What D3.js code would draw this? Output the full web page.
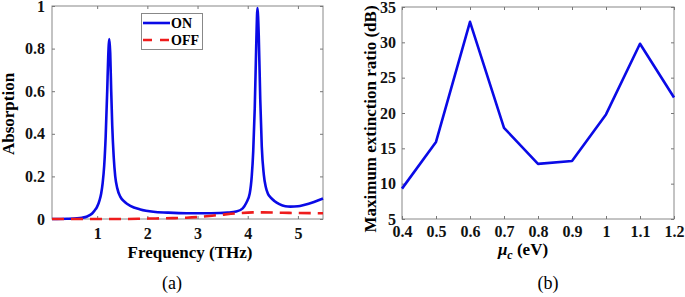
<!DOCTYPE html>
<html>
<head>
<meta charset="utf-8">
<script src="https://cdn.jsdelivr.net/npm/d3@7"></script>
<style>
  body { margin: 0; background: #fff; }
  svg { display: block; font-family: "Liberation Serif", "Times New Roman", serif; }
  .tick line { stroke: #777; }
</style>
</head>
<body>
<div id="chart"></div>
<script>
// ---- panel (a): absorption spectra ----
const freq   = [0.1, 0.4, 0.6, 0.7, 0.8, 0.9, 0.95, 1.0, 1.05, 1.08, 1.11, 1.14, 1.17, 1.2, 1.22, 1.243,
                1.26, 1.28, 1.3, 1.33, 1.36, 1.4, 1.46, 1.55, 1.66, 1.86, 2.12, 2.4, 2.78, 3.1, 3.44, 3.6,
                3.77, 3.9, 3.97, 4.04, 4.08, 4.11, 4.14, 4.17, 4.194, 4.22, 4.25, 4.28, 4.32, 4.36, 4.4,
                4.46, 4.53, 4.63, 4.75, 4.85, 5.0, 5.12, 5.32, 5.5];
const absOn  = [0.0, 0.001, 0.003, 0.006, 0.012, 0.026, 0.04, 0.058, 0.09, 0.12, 0.17, 0.25, 0.39, 0.6, 0.76, 0.845,
                0.78, 0.6, 0.44, 0.29, 0.2, 0.145, 0.105, 0.08, 0.062, 0.045, 0.034, 0.03, 0.027, 0.027, 0.028, 0.03,
                0.035, 0.05, 0.075, 0.12, 0.2, 0.32, 0.52, 0.82, 0.99, 0.86, 0.56, 0.34, 0.21, 0.15, 0.12,
                0.1, 0.085, 0.07, 0.06, 0.058, 0.06, 0.066, 0.08, 0.096];
const offFreq = [0.1, 1.0, 1.5, 2.0, 2.5, 2.78, 3.0, 3.44, 3.8, 4.1, 4.3, 4.7, 5.0, 5.5];
const absOff  = [0.0, 0.0, 0.0, 0.002, 0.004, 0.006, 0.009, 0.019, 0.027, 0.031, 0.031, 0.029, 0.028, 0.027];
const absTicksX = [1, 2, 3, 4, 5];
const absTicksY = [0, 0.2, 0.4, 0.6, 0.8, 1];

// ---- panel (b): maximum extinction ratio vs chemical potential ----
const muC = [0.4, 0.5, 0.6, 0.7, 0.8, 0.9, 1.0, 1.1, 1.2];
const extRatio = [9.3, 15.9, 32.9, 17.9, 12.8, 13.2, 19.8, 29.8, 22.2];
const muTicks = [0.4, 0.5, 0.6, 0.7, 0.8, 0.9, 1, 1.1, 1.2];
const extTicks = [5, 10, 15, 20, 25, 30, 35];

const SERIF = "Liberation Serif, Times New Roman, serif";
const W = 685, H = 297;
const svg = d3.select("#chart").append("svg").attr("width", W).attr("height", H);

function panel(cfg) {
    const x = d3.scaleLinear().domain(cfg.xDomain).range(cfg.xRange);
    const y = d3.scaleLinear().domain(cfg.yDomain).range(cfg.yRange);
    const g = svg.append("g");

    // frame
    g.append("rect")
        .attr("x", cfg.xRange[0]).attr("y", cfg.yRange[1])
        .attr("width", cfg.xRange[1] - cfg.xRange[0])
        .attr("height", cfg.yRange[0] - cfg.yRange[1])
        .attr("fill", "none").attr("stroke", "#888").attr("stroke-width", 1);

    // bottom / left axes with inward ticks
    const bx = g.append("g").attr("transform", `translate(0,${cfg.yRange[0]})`)
        .call(d3.axisBottom(x).tickValues(cfg.xTicks).tickSize(-3).tickPadding(cfg.xPad).tickFormat(d3.format("~g")));
    const ly = g.append("g").attr("transform", `translate(${cfg.xRange[0]},0)`)
        .call(d3.axisLeft(y).tickValues(cfg.yTicks).tickSize(-3).tickPadding(cfg.yPad).tickFormat(d3.format("~g")));
    // top / right ticks, no labels
    const tx = g.append("g").attr("transform", `translate(0,${cfg.yRange[1]})`)
        .call(d3.axisTop(x).tickValues(cfg.xTicks).tickSize(-3).tickFormat(""));
    const ry = g.append("g").attr("transform", `translate(${cfg.xRange[1]},0)`)
        .call(d3.axisRight(y).tickValues(cfg.yTicks).tickSize(-3).tickFormat(""));
    [bx, ly, tx, ry].forEach(ax => {
        ax.select(".domain").remove();
        ax.attr("font-family", SERIF).attr("font-size", 16).attr("font-weight", "bold");
        ax.selectAll("text").attr("fill", "#111");
    });

    return { g, x, y };
}

// =====================
// PANEL (a)
// =====================
const a = panel({
    xDomain: [0.1, 5.5], xRange: [52, 323],
    yDomain: [0, 1], yRange: [219, 6],
    xTicks: absTicksX, yTicks: absTicksY, xPad: 9, yPad: 7
});

const lineA = d3.line().curve(d3.curveMonotoneX);
a.g.append("path")
    .datum(freq.map((f, i) => [a.x(f), a.y(absOn[i])]))
    .attr("d", lineA)
    .attr("fill", "none").attr("stroke", "#0a0ae6").attr("stroke-width", 2.6);
a.g.append("path")
    .datum(offFreq.map((f, i) => [a.x(f), a.y(absOff[i])]))
    .attr("d", lineA)
    .attr("fill", "none").attr("stroke", "#ee1c1c").attr("stroke-width", 2.6)
    .attr("stroke-dasharray", "12,7");

// legend
const leg = a.g.append("g");
leg.append("rect").attr("x", 141.5).attr("y", 13.5).attr("width", 61).attr("height", 36)
    .attr("fill", "#fff").attr("stroke", "#888");
leg.append("line").attr("x1", 143).attr("x2", 170).attr("y1", 23).attr("y2", 23)
    .attr("stroke", "#0a0ae6").attr("stroke-width", 2.6);
leg.append("line").attr("x1", 143).attr("x2", 170).attr("y1", 40).attr("y2", 40)
    .attr("stroke", "#ee1c1c").attr("stroke-width", 2.6).attr("stroke-dasharray", "9,8");
leg.append("text").attr("x", 171).attr("y", 28).attr("font-weight", "bold").attr("font-size", 14).text("ON");
leg.append("text").attr("x", 171).attr("y", 45).attr("font-weight", "bold").attr("font-size", 14).text("OFF");

svg.append("text").attr("x", 190).attr("y", 258).attr("text-anchor", "middle")
    .attr("font-weight", "bold").attr("font-size", 17).text("Frequency (THz)");
svg.append("text").attr("transform", "translate(14,114) rotate(-90)").attr("text-anchor", "middle")
    .attr("font-weight", "bold").attr("font-size", 17).text("Absorption");
svg.append("text").attr("x", 172).attr("y", 289).attr("text-anchor", "middle")
    .attr("font-size", 18).text("(a)");

// =====================
// PANEL (b)
// =====================
const b = panel({
    xDomain: [0.4, 1.2], xRange: [402, 674],
    yDomain: [5, 35], yRange: [219, 7],
    xTicks: muTicks, yTicks: extTicks, xPad: 7, yPad: 6
});

b.g.append("path")
    .datum(muC.map((m, i) => [b.x(m), b.y(extRatio[i])]))
    .attr("d", d3.line())
    .attr("fill", "none").attr("stroke", "#0a0ae6").attr("stroke-width", 2.6)
    .attr("stroke-linejoin", "round");

const xl = svg.append("text").attr("x", 523).attr("y", 255).attr("text-anchor", "middle")
    .attr("font-weight", "bold").attr("font-size", 17);
xl.append("tspan").attr("font-style", "italic").text("\u03bc");
xl.append("tspan").attr("font-style", "italic").attr("font-size", 12).attr("dy", 4).text("c");
xl.append("tspan").attr("dy", -4).text(" (eV)");

svg.append("text").attr("transform", "translate(376,119) rotate(-90)").attr("text-anchor", "middle")
    .attr("font-weight", "bold").attr("font-size", 17).text("Maximum extinction ratio (dB)");
svg.append("text").attr("x", 548).attr("y", 289).attr("text-anchor", "middle")
    .attr("font-size", 18).text("(b)");
</script>
</body>
</html>
